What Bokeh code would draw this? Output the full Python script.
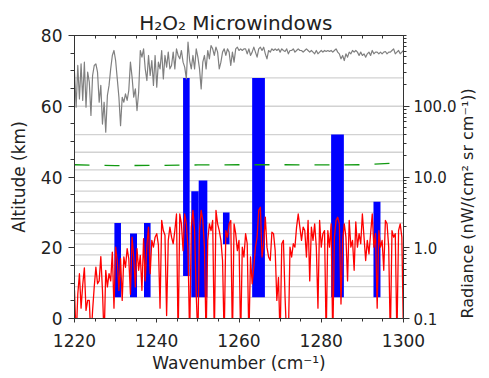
from bokeh.plotting import figure
from bokeh.models import (Range1d, LogScale, LinearAxis, LogAxis, FixedTicker,
                          PrintfTickFormatter, Span)
from bokeh.embed import file_html
from bokeh.resources import INLINE
import math

FONT = "DejaVu Sans"

# ---- data ----
tangent_alts = [6, 9, 12, 15, 18, 21, 24, 27, 30, 33, 36, 39, 42, 47, 52, 60, 68]

mw_start  = [1229.7, 1233.5, 1236.9, 1246.4, 1248.4, 1250.2, 1256.1, 1263.2, 1282.4, 1292.7]
mw_end    = [1231.3, 1235.2, 1238.5, 1248.0, 1250.2, 1252.3, 1257.7, 1266.3, 1285.5, 1294.4]
mw_bottom = [6, 6, 6, 12, 6, 6, 21, 6, 6, 6]
mw_top    = [27, 24, 27, 68, 36, 39, 30, 68, 52, 33]

wn_start = 1220.0
wn_step = 0.4

gray_rad = [
    303, 97, 377, 127, 398, 121, 420, 97, 303, 219,
    74, 272, 377, 398, 303, 114, 197, 56, 114, 43,
    142, 197, 338, 522, 614, 443, 244, 134, 53, 134,
    114, 150, 121, 167, 420, 258, 134, 176, 87, 158,
    614, 494, 648, 338, 231, 522, 272, 443, 197, 522,
    186, 420, 338, 614, 244, 522, 357, 582, 338, 377,
    582, 338, 648, 522, 468, 614, 420, 357, 244, 805,
    443, 338, 522, 338, 648, 494, 338, 176, 420, 522,
    338, 614, 468, 722, 648, 522, 684, 582, 338, 420,
    582, 648, 522, 648, 582, 377, 582, 420, 648, 684,
    614, 648, 614, 648, 648, 551, 648, 522, 582, 684,
    582, 494, 648, 684, 614, 684, 551, 468, 614, 582,
    648, 614, 648, 614, 648, 582, 648, 614, 594, 648,
    551, 614, 614, 648, 582, 614, 648, 614, 614, 582,
    614, 648, 614, 582, 614, 582, 551, 614, 551, 582,
    614, 582, 614, 594, 614, 594, 614, 582, 614, 648,
    582, 551, 468, 522, 443, 551, 494, 582, 551, 614,
    582, 614, 582, 522, 582, 522, 551, 494, 551, 582,
    522, 614, 551, 582, 582, 551, 582, 551, 582, 594,
    551, 582, 582, 614, 648, 551, 582, 614, 551, 582,
    614,
]

red_rad = [
    0.25, 0.05, 0.22, 0.43, 0.14, 0.30, 0.52, 0.13, 0.18, 0.18,
    0.05, 0.13, 0.28, 0.53, 0.31, 0.34, 0.75, 0.25, 0.05, 0.48,
    0.28, 0.43, 0.34, 0.87, 0.14, 1.02, 0.66, 0.25, 0.70, 0.18,
    0.74, 0.53, 0.97, 0.70, 0.22, 1.41, 0.74, 0.28, 0.97, 0.48,
    0.78, 0.25, 1.34, 0.34, 1.08, 1.96, 0.43, 1.27, 1.02, 1.41,
    1.58, 1.10, 0.14, 2.43, 1.75, 1.50, 0.11, 1.27, 1.96, 1.41,
    1.14, 1.75, 3.00, 0.05, 3.00, 2.18, 0.91, 3.00, 2.18, 0.97,
    0.05, 1.96, 3.37, 1.75, 0.22, 0.05, 1.75, 3.37, 2.43, 1.02,
    0.05, 1.27, 2.18, 1.75, 2.43, 0.05, 3.37, 2.18, 1.75, 1.27,
    0.66, 0.05, 1.75, 1.41, 2.18, 2.43, 0.05, 2.18, 1.58, 0.91,
    1.27, 0.05, 1.02, 0.74, 1.58, 1.14, 0.05, 0.74, 0.31, 0.53,
    1.02, 1.41, 3.37, 3.74, 0.74, 1.14, 2.70, 1.02, 0.74, 0.66,
    1.66, 1.58, 0.91, 0.18, 0.38, 0.05, 1.14, 1.27, 0.20, 0.05,
    0.05, 1.02, 0.74, 1.14, 1.02, 1.96, 3.00, 1.96, 1.27, 1.96,
    1.75, 0.74, 2.43, 0.34, 1.96, 1.27, 2.18, 1.02, 0.14, 2.43,
    1.02, 1.58, 1.75, 0.05, 1.75, 1.02, 2.18, 0.05, 1.41, 2.43,
    2.70, 2.18, 0.16, 1.27, 2.18, 1.41, 0.34, 2.43, 1.02, 1.27,
    0.48, 2.31, 1.02, 1.58, 1.14, 3.00, 1.41, 0.66, 1.27, 0.82,
    1.58, 3.00, 1.02, 1.58, 0.14, 1.75, 1.02, 1.27, 0.48, 2.43,
    2.18, 1.02, 0.05, 1.75, 1.41, 1.58, 0.05, 1.75, 2.18, 1.41,
    0.05,
]

wavenumber = [wn_start + wn_step * i for i in range(len(red_rad))]

nesr_wn  = [1220, 1230, 1240, 1250, 1260, 1270, 1280, 1290, 1300]
nesr_rad = [14.9, 14.5, 14.6, 14.8, 14.9, 14.9, 14.8, 14.9, 16.0]

x_major = [1220, 1240, 1260, 1280, 1300]
x_minor = [1225, 1230, 1235, 1245, 1250, 1255, 1265, 1270, 1275, 1285, 1290, 1295]
alt_major = [0, 20, 40, 60, 80]
alt_minor = [5, 10, 15, 25, 30, 35, 45, 50, 55, 65, 70, 75]
rad_major = [0.1, 1, 10, 100]
rad_minor = [0.2, 0.3, 0.4, 0.5, 0.6, 0.7, 0.8, 0.9,
             2, 3, 4, 5, 6, 7, 8, 9,
             20, 30, 40, 50, 60, 70, 80, 90,
             200, 300, 400, 500, 600, 700, 800, 900, 1000]

title_text = "H\u2082O\u2082  Microwindows"
x_label = "Wavenumber (cm\u207b\u00b9)"
y_label = "Altitude (km)"
y2_label = "Radiance (nW/(cm\u00b2 sr cm\u207b\u00b9))"

# ---- figure ----
p = figure(width=489, height=378,
           x_range=Range1d(1220, 1300), y_range=Range1d(0, 80),
           output_backend="svg", toolbar_location=None,
           x_axis_location=None, y_axis_location=None,
           min_border_left=74, min_border_right=84,
           min_border_top=35, min_border_bottom=60)
p.extra_y_ranges = {"rad": Range1d(0.1, 1000)}
p.extra_y_scales = {"rad": LogScale()}
p.xgrid.visible = False
p.ygrid.visible = False
p.outline_line_color = "#333333"
p.background_fill_color = "white"
p.border_fill_color = "white"

p.title.text = title_text
p.title.align = "center"
p.title.text_font = FONT
p.title.text_font_size = "20px"
p.title.text_font_style = "normal"
p.title.text_color = "#222222"
p.title.standoff = 2

AX = "#333333"
TXT = "#222222"

def style(ax, size="17px"):
    ax.axis_line_color = AX
    ax.major_tick_line_color = AX
    ax.minor_tick_line_color = AX
    ax.major_label_text_font = FONT
    ax.major_label_text_font_size = size
    ax.major_label_text_color = TXT
    ax.axis_label_text_font = FONT
    ax.axis_label_text_font_size = "17px"
    ax.axis_label_text_font_style = "normal"
    ax.axis_label_text_color = TXT

xb = LinearAxis(ticker=FixedTicker(ticks=x_major, minor_ticks=x_minor), axis_label=x_label)
style(xb)
xb.major_tick_in = 0
xb.major_tick_out = 4
xb.minor_tick_in = 0
xb.minor_tick_out = 3
xb.major_label_standoff = 11
xb.axis_label_standoff = 3
p.add_layout(xb, "below")

xt = LinearAxis(ticker=FixedTicker(ticks=x_major, minor_ticks=x_minor))
style(xt, "0px")
xt.major_label_text_color = None
xt.major_tick_in = 4
xt.major_tick_out = 0
xt.minor_tick_in = 3
xt.minor_tick_out = 0
xt.major_label_standoff = 0
p.add_layout(xt, "above")

yl = LinearAxis(ticker=FixedTicker(ticks=alt_major, minor_ticks=alt_minor), axis_label=y_label)
style(yl)
yl.major_tick_in = 0
yl.major_tick_out = 6
yl.minor_tick_in = 0
yl.minor_tick_out = 4
yl.major_label_standoff = 6
yl.axis_label_standoff = 9
p.add_layout(yl, "left")

yr = LogAxis(y_range_name="rad",
             ticker=FixedTicker(ticks=rad_major, minor_ticks=rad_minor),
             formatter=PrintfTickFormatter(format="%.1f"),
             axis_label=y2_label)
style(yr, "15px")
yr.axis_label_text_font_size = "16px"
yr.major_tick_in = 0
yr.major_tick_out = 6
yr.minor_tick_in = 0
yr.minor_tick_out = 3
yr.major_label_standoff = 4
yr.axis_label_standoff = 8
props = yr.properties()
if "axis_label_orientation" in props:
    yr.axis_label_orientation = math.pi / 2
    if "axis_label_align" in props:
        yr.axis_label_align = "start"
p.add_layout(yr, "right")

# tangent-altitude grid lines
for a in tangent_alts:
    p.add_layout(Span(location=a, dimension="width", line_color="#d2d2d2",
                      line_width=1.3, level="underlay"))

# microwindow bars
p.quad(left=mw_start, right=mw_end, bottom=mw_bottom, top=mw_top,
       fill_color="#0000ff", line_color=None)

# spectra
p.line(wavenumber, gray_rad, y_range_name="rad", line_color="#808080",
       line_width=1.2, line_join="round")
p.line(nesr_wn, nesr_rad, y_range_name="rad", line_color="#119911",
       line_width=1.3, line_dash="15 15")
p.line(wavenumber, red_rad, y_range_name="rad", line_color="#ff0000",
       line_width=1.3, line_join="round")

open("out.html", "w").write(file_html(p, INLINE))
